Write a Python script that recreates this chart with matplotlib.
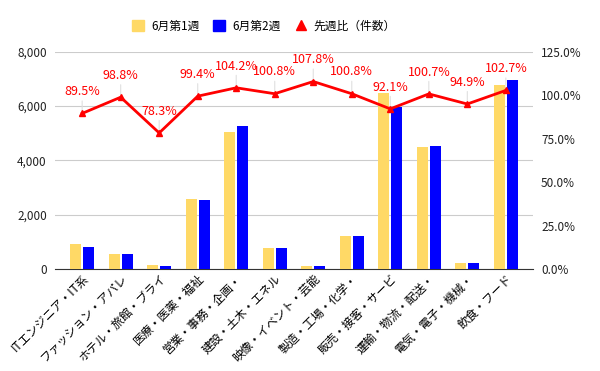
import matplotlib
matplotlib.use('Agg')
import matplotlib.pyplot as plt
from matplotlib.patches import Patch
from matplotlib.lines import Line2D
import numpy as np

plt.rcParams['font.family'] = ['Noto Sans CJK JP', 'DejaVu Sans']

# data
categories = ['ITエンジニア・IT系', 'ファッション・アパレ', 'ホテル・旅館・ブライ', '医療・医薬・福祉',
              '営業・事務・企画・', '建設・土木・エネル', '映像・イベント・芸能', '製造・工場・化学・',
              '販売・接客・サービ', '運輸・物流・配送・', '電気・電子・機械・', '飲食・フード']
week1 = [918, 560, 147, 2574, 5040, 780, 115, 1225, 6483, 4485, 235, 6777]
week2 = [822, 553, 115, 2559, 5252, 786, 124, 1235, 5971, 4516, 223, 6960]
ratio = [89.5, 98.8, 78.3, 99.4, 104.2, 100.8, 107.8, 100.8, 92.1, 100.7, 94.9, 102.7]
legend_labels = ['6月第1週', '6月第2週', '先週比（件数）']

yellow = '#ffd966'
blue = '#0000ff'
red = '#ff0000'

fig = plt.figure(figsize=(6, 3.71), dpi=100)
ax = fig.add_axes([0.092, 0.274, 0.796, 0.587])
ax2 = ax.twinx()

x = np.arange(len(categories))
ax.bar(x - 0.17, week1, width=0.28, color=yellow, zorder=3)
ax.bar(x + 0.17, week2, width=0.28, color=blue, zorder=3)

ax.set_ylim(0, 8000)
ax.set_yticks(range(0, 8001, 2000))
ax.set_yticklabels(['{:,}'.format(v) for v in range(0, 8001, 2000)])
ax.set_xlim(-0.7, len(categories) - 0.3)
ax.grid(axis='y', color='#cccccc', linewidth=0.8, zorder=0)
ax.set_axisbelow(True)
for s in ['top', 'right', 'left']:
    ax.spines[s].set_visible(False)
ax.spines['bottom'].set_color('#333333')
ax.tick_params(axis='y', length=0, labelsize=8.5, colors='#222222', pad=6)
ax.tick_params(axis='x', length=0, pad=2)
ax.set_xticks(x)
ax.set_xticklabels(categories, rotation=45, ha='right', rotation_mode='anchor', fontsize=8.5)

ax2.plot(x, ratio, color=red, linewidth=2, marker='^', markersize=4, zorder=5)
ax2.set_ylim(0, 125)
ax2.set_yticks([0, 25, 50, 75, 100, 125])
ax2.set_yticklabels(['{:.1f}%'.format(v) for v in [0, 25, 50, 75, 100, 125]])
ax2.tick_params(axis='y', length=0, labelsize=8.5, colors='#222222', pad=6)
for s in ax2.spines.values():
    s.set_visible(False)

for i, r in enumerate(ratio):
    ax2.annotate('{:.1f}%'.format(r), xy=(i, r), xytext=(0, 11), textcoords='offset points',
                 ha='center', va='bottom', color=red, fontsize=9,
                 arrowprops=dict(arrowstyle='-', color='#e0e0e0', lw=0.8, shrinkA=0, shrinkB=1))

handles = [Patch(color=yellow), Patch(color=blue),
           Line2D([], [], color=red, marker='^', linestyle='none', markersize=7)]
fig.legend(handles, legend_labels, loc='center', bbox_to_anchor=(0.44, 0.93), ncol=3,
           frameon=False, fontsize=8.5, handlelength=1.0, handleheight=1.0,
           handletextpad=0.6, columnspacing=1.2)

plt.savefig('out.png')
